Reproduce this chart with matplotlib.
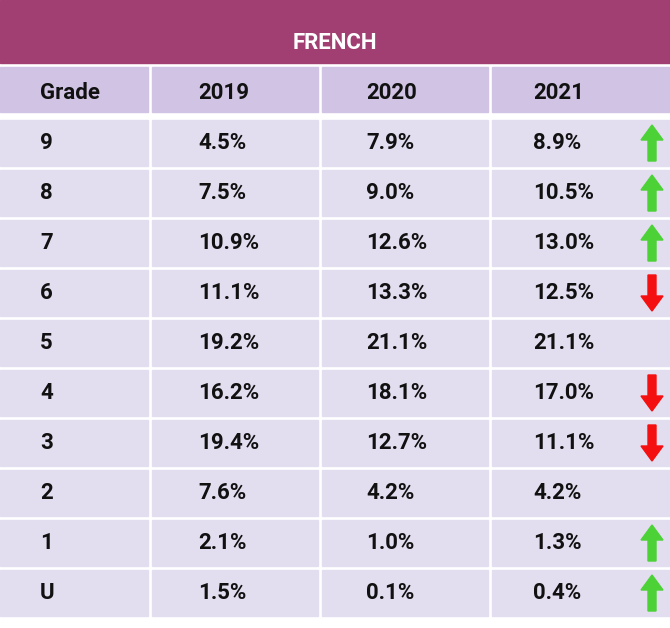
import matplotlib.pyplot as plt
from matplotlib.patches import Rectangle, FancyArrow

grades = ["9", "8", "7", "6", "5", "4", "3", "2", "1", "U"]
y2019 = ["4.5%", "7.5%", "10.9%", "11.1%", "19.2%", "16.2%", "19.4%", "7.6%", "2.1%", "1.5%"]
y2020 = ["7.9%", "9.0%", "12.6%", "13.3%", "21.1%", "18.1%", "12.7%", "4.2%", "1.0%", "0.1%"]
y2021 = ["8.9%", "10.5%", "13.0%", "12.5%", "21.1%", "17.0%", "11.1%", "4.2%", "1.3%", "0.4%"]
trend = ["up", "up", "up", "down", "", "down", "down", "", "up", "up"]
headers = ["Grade", "2019", "2020", "2021"]

W, H = 670, 628
fig = plt.figure(figsize=(W / 100, H / 100), dpi=100)
ax = fig.add_axes([0, 0, 1, 1])
ax.set_xlim(0, W)
ax.set_ylim(H, 0)
ax.axis("off")

font = "Roboto"
# title band
ax.add_patch(Rectangle((0, 0), W, 63, color="#A23F72"))
ax.text(W / 2, 43, "FRENCH", ha="center", va="center", color="white",
        fontsize=16, fontweight="bold", family=font)

cols = [(0, 148), (152, 318), (322, 488), (492, 670)]
text_x = [40, 198, 366, 533]

# header row
for (x0, x1), tx, h in zip(cols, text_x, headers):
    ax.add_patch(Rectangle((x0, 67), x1 - x0, 45, color="#D0C3E4"))
    ax.text(tx, 93, h, ha="left", va="center", fontsize=16, fontweight="bold",
            family=font, color="#111111")

for i, g in enumerate(grades):
    top = 120 + 50 * i
    cy = top + 23
    for (x0, x1) in cols:
        ax.add_patch(Rectangle((x0, top), x1 - x0, 46, color="#E3DDF0"))
    for tx, val in zip(text_x, [g, y2019[i], y2020[i], y2021[i]]):
        ax.text(tx, cy, val, ha="left", va="center", fontsize=16,
                fontweight="bold", family=font, color="#111111")
    if trend[i] == "up":
        ax.add_patch(FancyArrow(652, cy + 18, 0, -36, width=8, head_width=22,
                                head_length=15, length_includes_head=True,
                                color="#4CD137"))
    elif trend[i] == "down":
        ax.add_patch(FancyArrow(652, cy - 18, 0, 36, width=8, head_width=22,
                                head_length=15, length_includes_head=True,
                                color="#F41010"))

fig.savefig("out.png", dpi=100)
